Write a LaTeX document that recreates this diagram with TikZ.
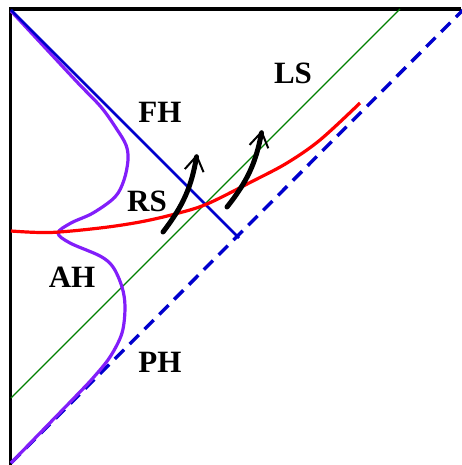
\documentclass[tikz,border=0pt]{standalone}
\usepackage{fontspec}
\setmainfont{Liberation Serif}
\usetikzlibrary{arrows.meta}
\definecolor{hblue}{RGB}{0,0,205}
\definecolor{ahpurple}{RGB}{130,30,250}
\definecolor{lsgreen}{RGB}{0,128,0}
\definecolor{rsred}{RGB}{255,0,0}
\tikzset{
  frame/.style={line width=3.3pt, black},
  fhline/.style={line width=2.8pt, hblue},
  phline/.style={line width=3.4pt, hblue, dash pattern=on 13pt off 8pt},
  lsline/.style={line width=1.2pt, lsgreen},
  rsline/.style={line width=3.2pt, rsred},
  ahline/.style={line width=3.2pt, ahpurple, line join=round},
  flow/.style={line width=5pt, black, line cap=round,
     -{Straight Barb[length=15pt,width=19pt,line width=2pt]}},
  lbl/.style={font=\fontsize{31}{31}\selectfont\bfseries, inner sep=0pt}
}
\begin{document}
\begin{tikzpicture}[x=1pt,y=-1pt]
\path[use as bounding box] (0,0) rectangle (461,465);
% frame
\coordinate (bl) at (10.5,465);
\coordinate (tl) at (10.5,9);
\coordinate (tr) at (461,9);
\draw[frame] (bl) -- (tl) -- (tr);
% light sheet (green)
\coordinate (ls0) at (11,398);
\coordinate (ls1) at (400,9);
\draw[lsline] (ls0) -- (ls1);
% past horizon (dashed)
\coordinate (ph0) at (11,463);
\coordinate (ph1) at (463,10);
\draw[phline] (ph0) -- (ph1);
% apparent horizon (purple)
\draw[ahline] plot[smooth, tension=0.55] coordinates {
 (11,11) (44,46.5) (78,83) (101,107) (116,128) (126,145) (128,160)
 (124,180) (115,197) (93,213) (71,223) (58,233) (70,243) (100,256)
 (113,267) (122,287) (125,307) (122,333) (110,357) (93,378) (76,396)
 (43,430) (11,463)};
% future horizon
\coordinate (fh0) at (11,10);
\coordinate (fh1) at (239,238);
\draw[fhline] (fh0) -- (fh1);
% red surface
\draw[rsline] plot[smooth, tension=0.55] coordinates {
 (11,231) (50,232.5) (100,228) (140,222) (175,214) (207,204)
 (253,181) (287,163) (320,140) (360,103)};
% flow arrows
\coordinate (a0) at (163,232);
\coordinate (a1) at (197,154);
\coordinate (b0) at (227,207);
\coordinate (b1) at (262,130);
\draw[flow] (a0) to[bend right=14] (a1);
\draw[flow] (b0) to[bend right=14] (b1);
% labels
\node[lbl] (FH) at (160,112) {FH};
\node[lbl] (RS) at (147,201) {RS};
\node[lbl] (LS) at (293,73) {LS};
\node[lbl] (AH) at (72,277) {AH};
\node[lbl] (PH) at (160,362) {PH};
\end{tikzpicture}
\end{document}
